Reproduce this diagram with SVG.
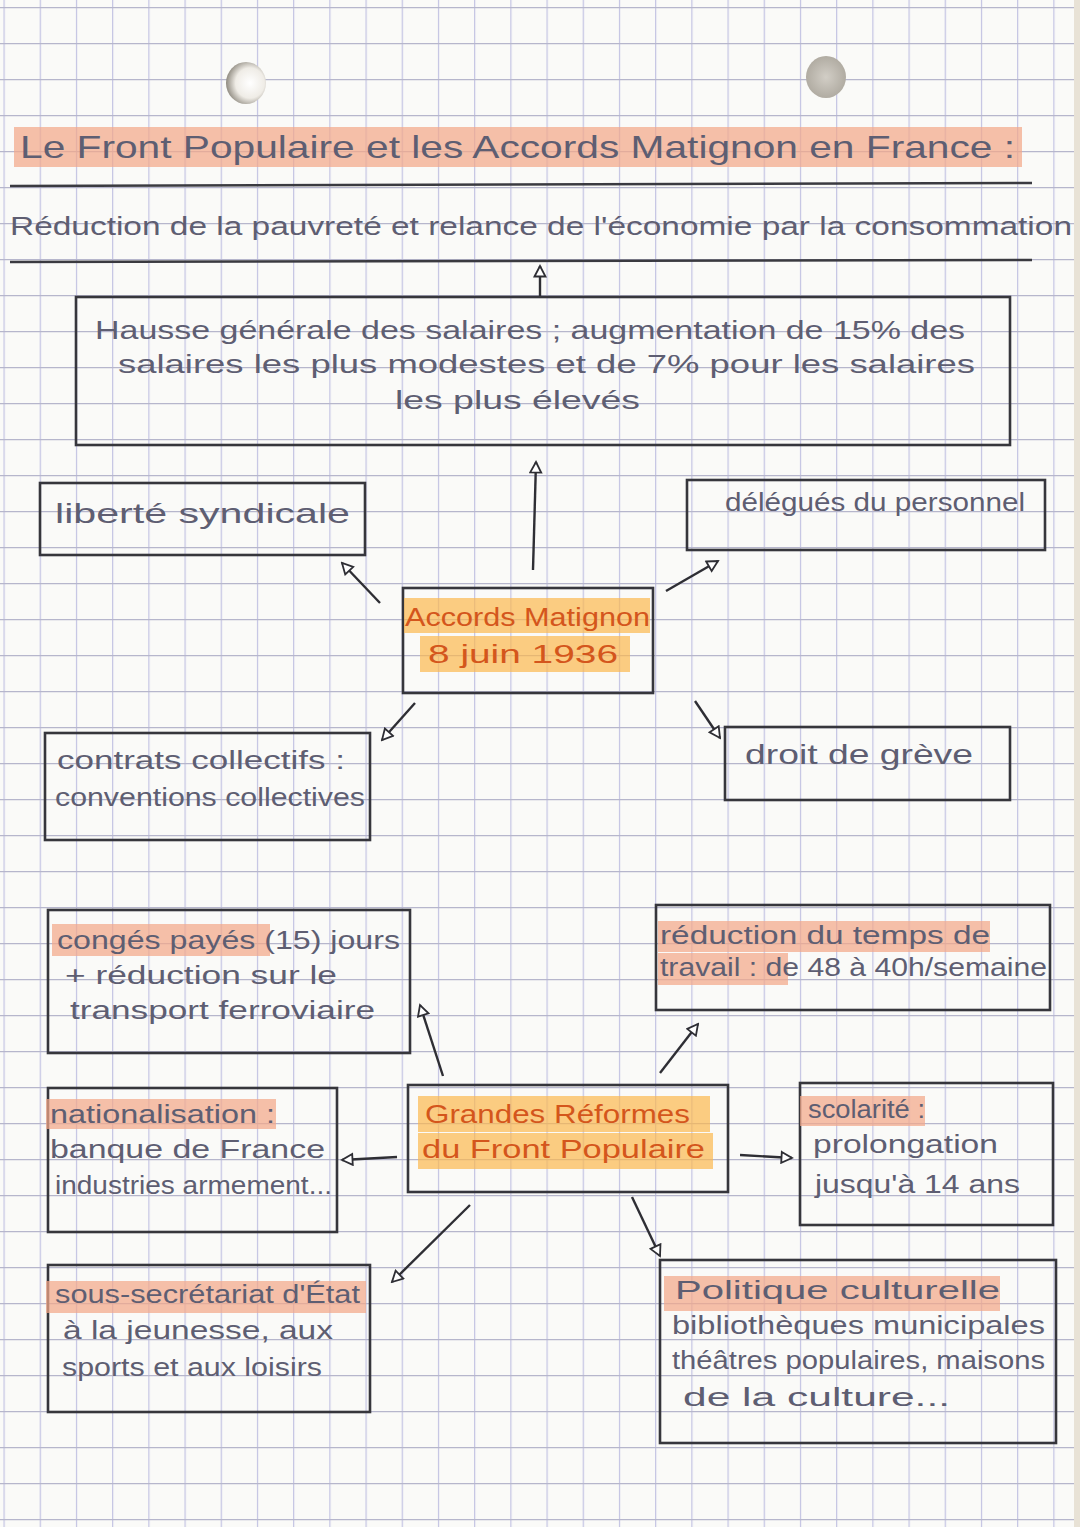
<svg xmlns="http://www.w3.org/2000/svg" width="1080" height="1527" viewBox="0 0 1080 1527">
<defs>
<pattern id="grid" patternUnits="userSpaceOnUse" x="3.5" y="7" width="36.2" height="36">
<line x1="0.5" y1="0" x2="0.5" y2="36" stroke="#c2c2e2" stroke-width="1.4"/>
<line x1="0" y1="0.5" x2="36.2" y2="0.5" stroke="#b6b6cc" stroke-width="1.6"/>
</pattern>
<radialGradient id="hole1" cx="0.6" cy="0.5" r="0.6">
<stop offset="0" stop-color="#ffffff"/>
<stop offset="0.6" stop-color="#efece6"/>
<stop offset="1" stop-color="#8f8a80"/>
</radialGradient>
<radialGradient id="hole2" cx="0.5" cy="0.5" r="0.6">
<stop offset="0" stop-color="#d2cec6"/>
<stop offset="1" stop-color="#aaa59b"/>
</radialGradient>
<marker id="ah" viewBox="0 0 14 14" refX="12" refY="7" markerWidth="14" markerHeight="14" markerUnits="userSpaceOnUse" orient="auto">
<path d="M1.5,1.5 L12,7 L1.5,12.5 Z" fill="#fff" stroke="#2e2e34" stroke-width="1.8"/>
</marker>
<style>
.box{fill:none;stroke:#36363c;stroke-width:2.6}
.t{font-family:"Liberation Sans","Open Sans",sans-serif;font-size:25px;fill:#5e5e72}
.c{font-family:"Liberation Sans","Open Sans",sans-serif;font-size:26px;fill:#d4561c}
.hl{fill:#f3a789;opacity:0.72}
.ho{fill:#fbb84e;opacity:0.7}
.rule{stroke:#3a3a40;stroke-width:2.4}
.cn{stroke:#2e2e34;stroke-width:2.4;fill:none}
</style>
</defs>
<rect x="0" y="0" width="1080" height="1527" fill="#fafaf8"/>
<rect x="0" y="0" width="1080" height="1527" fill="url(#grid)"/>
<rect x="1074" y="0" width="6" height="1527" fill="#e8e2d6"/>
<ellipse cx="246" cy="83" rx="20" ry="21" fill="url(#hole1)"/>
<ellipse cx="826" cy="77" rx="20" ry="21" fill="url(#hole2)"/>

<g id="title">
<rect class="hl" x="14" y="127" width="1008" height="40"/>
<text class="t" x="20" y="158" textLength="995" lengthAdjust="spacingAndGlyphs" style="font-size:32px">Le Front Populaire et les Accords Matignon en France :</text>
</g>
<line class="rule" x1="10" y1="186" x2="1032" y2="183"/>
<g id="subtitle">
<text class="t" x="10" y="235" textLength="1062" lengthAdjust="spacingAndGlyphs">Réduction de la pauvreté et relance de l'économie par la consommation</text>
</g>
<line class="rule" x1="10" y1="262" x2="1032" y2="260"/>

<g id="hausse">
<rect class="box" x="76" y="297" width="934" height="148"/>
<text class="t" x="95" y="339" textLength="870" lengthAdjust="spacingAndGlyphs">Hausse générale des salaires ; augmentation de 15% des</text>
<text class="t" x="118" y="373" textLength="857" lengthAdjust="spacingAndGlyphs">salaires les plus modestes et de 7% pour les salaires</text>
<text class="t" x="395" y="409" textLength="245" lengthAdjust="spacingAndGlyphs">les plus élevés</text>
</g>

<g id="liberte">
<rect class="box" x="40" y="483" width="325" height="72"/>
<text class="t" x="55" y="523" textLength="295" lengthAdjust="spacingAndGlyphs" style="font-size:28px">liberté syndicale</text>
</g>
<g id="delegues">
<rect class="box" x="687" y="480" width="358" height="70"/>
<text class="t" x="725" y="511" textLength="300" lengthAdjust="spacingAndGlyphs">délégués du personnel</text>
</g>
<g id="matignon">
<rect class="box" x="403" y="588" width="250" height="105"/>
<rect class="ho" x="404" y="598" width="246" height="35"/>
<rect class="ho" x="420" y="636" width="210" height="36"/>
<text class="c" x="405" y="626" textLength="245" lengthAdjust="spacingAndGlyphs">Accords Matignon</text>
<text class="c" x="428" y="663" textLength="190" lengthAdjust="spacingAndGlyphs">8 juin 1936</text>
</g>
<g id="contrats">
<rect class="box" x="45" y="733" width="325" height="107"/>
<text class="t" x="57" y="769" textLength="288" lengthAdjust="spacingAndGlyphs">contrats collectifs :</text>
<text class="t" x="55" y="806" textLength="310" lengthAdjust="spacingAndGlyphs">conventions collectives</text>
</g>
<g id="greve">
<rect class="box" x="725" y="727" width="285" height="73"/>
<text class="t" x="745" y="764" textLength="228" lengthAdjust="spacingAndGlyphs" style="font-size:28px">droit de grève</text>
</g>

<g id="conges">
<rect class="box" x="48" y="910" width="362" height="143"/>
<rect class="hl" x="52" y="924" width="218" height="32"/>
<text class="t" x="57" y="949" textLength="343" lengthAdjust="spacingAndGlyphs">congés payés (15) jours</text>
<text class="t" x="65" y="984" textLength="272" lengthAdjust="spacingAndGlyphs">+ réduction sur le</text>
<text class="t" x="70" y="1019" textLength="305" lengthAdjust="spacingAndGlyphs">transport ferroviaire</text>
</g>
<g id="temps">
<rect class="box" x="656" y="905" width="394" height="105"/>
<rect class="hl" x="658" y="921" width="332" height="31"/>
<rect class="hl" x="658" y="953" width="130" height="32"/>
<text class="t" x="660" y="944" textLength="330" lengthAdjust="spacingAndGlyphs">réduction du temps de</text>
<text class="t" x="660" y="976" textLength="387" lengthAdjust="spacingAndGlyphs">travail : de 48 à 40h/semaine</text>
</g>

<g id="nationalisation">
<rect class="box" x="48" y="1088" width="289" height="144"/>
<rect class="hl" x="46" y="1099" width="230" height="30"/>
<text class="t" x="50" y="1123" textLength="225" lengthAdjust="spacingAndGlyphs">nationalisation :</text>
<text class="t" x="50" y="1158" textLength="275" lengthAdjust="spacingAndGlyphs">banque de France</text>
<text class="t" x="55" y="1194" textLength="277" lengthAdjust="spacingAndGlyphs">industries armement...</text>
</g>
<g id="reformes">
<rect class="box" x="408" y="1085" width="320" height="107"/>
<rect class="ho" x="418" y="1096" width="292" height="36"/>
<rect class="ho" x="418" y="1133" width="295" height="36"/>
<text class="c" x="425" y="1123" textLength="265" lengthAdjust="spacingAndGlyphs">Grandes Réformes</text>
<text class="c" x="422" y="1158" textLength="283" lengthAdjust="spacingAndGlyphs">du Front Populaire</text>
</g>
<g id="scolarite">
<rect class="box" x="800" y="1083" width="253" height="142"/>
<rect class="hl" x="800" y="1096" width="125" height="30"/>
<text class="t" x="808" y="1118" textLength="117" lengthAdjust="spacingAndGlyphs">scolarité :</text>
<text class="t" x="813" y="1153" textLength="185" lengthAdjust="spacingAndGlyphs">prolongation</text>
<text class="t" x="815" y="1193" textLength="205" lengthAdjust="spacingAndGlyphs">jusqu'à 14 ans</text>
</g>
<g id="secretariat">
<rect class="box" x="48" y="1265" width="322" height="147"/>
<rect class="hl" x="46" y="1281" width="320" height="32"/>
<text class="t" x="55" y="1303" textLength="305" lengthAdjust="spacingAndGlyphs">sous-secrétariat d'État</text>
<text class="t" x="63" y="1339" textLength="270" lengthAdjust="spacingAndGlyphs">à la jeunesse, aux</text>
<text class="t" x="62" y="1376" textLength="260" lengthAdjust="spacingAndGlyphs">sports et aux loisirs</text>
</g>
<g id="culture">
<rect class="box" x="660" y="1260" width="396" height="183"/>
<rect class="hl" x="664" y="1276" width="336" height="35"/>
<text class="t" x="675" y="1299" textLength="325" lengthAdjust="spacingAndGlyphs">Politique culturelle</text>
<text class="t" x="672" y="1334" textLength="373" lengthAdjust="spacingAndGlyphs">bibliothèques municipales</text>
<text class="t" x="672" y="1369" textLength="373" lengthAdjust="spacingAndGlyphs">théâtres populaires, maisons</text>
<text class="t" x="683" y="1406" textLength="267" lengthAdjust="spacingAndGlyphs">de la culture...</text>
</g>

<g id="connectors">
<line class="cn" x1="540" y1="296" x2="540" y2="266" marker-end="url(#ah)"/>
<line class="cn" x1="533" y1="570" x2="536" y2="462" marker-end="url(#ah)"/>
<line class="cn" x1="380" y1="603" x2="342" y2="563" marker-end="url(#ah)"/>
<line class="cn" x1="666" y1="591" x2="718" y2="561" marker-end="url(#ah)"/>
<line class="cn" x1="415" y1="703" x2="382" y2="740" marker-end="url(#ah)"/>
<line class="cn" x1="695" y1="701" x2="720" y2="738" marker-end="url(#ah)"/>
<line class="cn" x1="443" y1="1076" x2="420" y2="1005" marker-end="url(#ah)"/>
<line class="cn" x1="660" y1="1073" x2="698" y2="1024" marker-end="url(#ah)"/>
<line class="cn" x1="397" y1="1157" x2="342" y2="1160" marker-end="url(#ah)"/>
<line class="cn" x1="740" y1="1155" x2="792" y2="1158" marker-end="url(#ah)"/>
<line class="cn" x1="470" y1="1205" x2="392" y2="1282" marker-end="url(#ah)"/>
<line class="cn" x1="632" y1="1197" x2="660" y2="1256" marker-end="url(#ah)"/>
</g>
</svg>
